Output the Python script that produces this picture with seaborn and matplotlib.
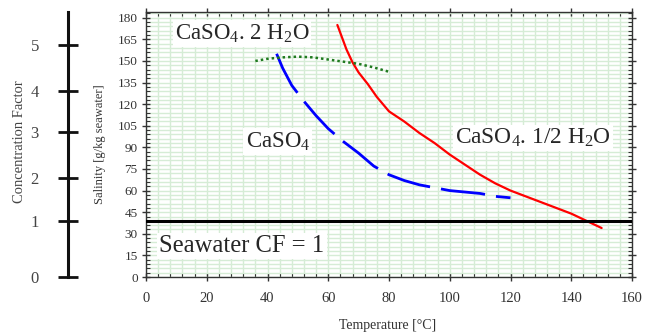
import numpy as np
import pandas as pd
import matplotlib
matplotlib.use("Agg")
import matplotlib.pyplot as plt
import seaborn as sns

# ---- data ----
hemi_T = [63, 66, 68, 70, 73, 76, 80, 85, 90, 95, 100, 105, 110, 115, 120, 125, 130, 135, 140, 145, 150]
hemi_S = [175, 158, 149, 142, 134, 125, 115, 108, 100, 93, 85, 78, 71, 65, 60, 56, 52, 48, 44, 39, 34]

anhy_T = [43, 45, 48, 52, 56, 60, 65, 70, 75, 80, 85, 90, 95, 100, 105, 110, 115, 120]
anhy_S = [155, 145, 133, 122, 112, 103, 94, 86, 77, 71, 67, 64, 62, 60, 59, 58, 56, 55]

gyp_T = [36, 40, 45, 50, 55, 60, 65, 70, 75, 80]
gyp_S = [150, 151.5, 152.5, 153, 152.5, 151, 149.5, 148, 145.5, 142.5]

seawater_S = 39
cf_labels = ["0", "1", "2", "3", "4", "5"]
cf_positions = [0, 38.9, 68.8, 100.7, 129.2, 161.1]

x_ticks = [0, 20, 40, 60, 80, 100, 120, 140, 160]
y_ticks = [0, 15, 30, 45, 60, 75, 90, 105, 120, 135, 150, 165, 180]

labels = {
    "gyp": r"CaSO$\mathregular{_4}$. 2 H$\mathregular{_2}$O",
    "anhy": r"CaSO$\mathregular{_4}$",
    "hemi": r"CaSO$\mathregular{_4}$. 1/2 H$\mathregular{_2}$O",
    "sea": "Seawater CF = 1",
}

sns.set_theme(style="white")
plt.rcParams["font.family"] = ["Liberation Serif", "DejaVu Serif"]
plt.rcParams["mathtext.fontset"] = "custom"
plt.rcParams["mathtext.rm"] = "Liberation Serif"

fig = plt.figure(figsize=(6.54, 3.36), dpi=100)
W, H = 654, 336
ax = fig.add_axes([146 / W, 1 - 277 / H, (632 - 146) / W, (277 - 12) / H])

df_h = pd.DataFrame({"T": hemi_T, "S": hemi_S})
df_a = pd.DataFrame({"T": anhy_T, "S": anhy_S})
df_g = pd.DataFrame({"T": gyp_T, "S": gyp_S})

sns.lineplot(data=df_h, x="T", y="S", ax=ax, color="#ff0000", lw=1.6, sort=False, zorder=4)
sns.lineplot(data=df_a, x="T", y="S", ax=ax, color="#0000ff", lw=2.0, sort=False, zorder=4)
ax.lines[-1].set_dashes([16, 4])
sns.lineplot(data=df_g, x="T", y="S", ax=ax, color="#1f7a1f", lw=1.8, sort=False, zorder=4)
ax.lines[-1].set_dashes([1, 1.2])
ax.axhline(seawater_S, color="black", lw=2.2, zorder=5)

ax.set_xlim(0, 160)
ax.set_ylim(0, 184)
ax.set_xticks(x_ticks)
ax.set_yticks(y_ticks)
ax.set_xticks(np.arange(0, 161, 4), minor=True)
ax.set_yticks(np.arange(0, 185, 3), minor=True)
ax.grid(True, which="both", color="#d6ecd6", lw=1.0)
ax.set_axisbelow(True)
ax.set_xlabel("")
ax.set_ylabel("")
for s in ax.spines.values():
    s.set_color("#333333")
    s.set_linewidth(1.0)
ax.tick_params(which="major", direction="inout", length=6, width=1, color="#333333",
               labelsize=10, labelcolor="#333333", bottom=True, left=True, top=True, right=True,
               labeltop=False, labelright=False, pad=3)
ax.tick_params(which="minor", direction="in", length=3, width=0.8, color="#333333",
               bottom=True, left=True, top=True, right=True)
ax.tick_params(axis="x", which="major", pad=8, labelsize=10.5)
ax.tick_params(axis="y", which="major", labelsize=9.5)

bbox = dict(facecolor="white", edgecolor="none", pad=1.5)
ax.text(31.6, 169, labels["gyp"], fontsize=16.5, ha="center", va="center", bbox=bbox, zorder=6)
ax.text(43.4, 94, labels["anhy"], fontsize=16.5, ha="center", va="center", bbox=bbox, zorder=6)
ax.text(127.3, 96.5, labels["hemi"], fontsize=16.8, ha="center", va="center", bbox=bbox, zorder=6)
ax.text(31.6, 21.5, labels["sea"], fontsize=17.7, ha="center", va="center", bbox=bbox, zorder=6)

# concentration factor axis
cax = fig.add_axes([68 / W, 1 - 277 / H, 0.001, (277 - 12) / H])
cax.set_ylim(0, 184)
cax.set_xticks([])
cax.set_yticks(cf_positions)
cax.set_yticklabels(cf_labels)
for k in ["top", "right", "bottom"]:
    cax.spines[k].set_visible(False)
cax.spines["left"].set_linewidth(2.2)
cax.spines["left"].set_color("#111111")
cax.patch.set_alpha(0)
cax.tick_params(axis="y", which="major", left=True, direction="inout", length=14, width=2,
                color="#111111", labelsize=12, labelcolor="#444444", pad=14)

fig.text(20 / W, 1 - 142 / H, "Concentration Factor", rotation=90, ha="center", va="center",
         fontsize=10.5, color="#444444")
fig.text(100 / W, 1 - 144 / H, "Salinity [g/kg seawater]", rotation=90, ha="center", va="center",
         fontsize=9, color="#333333")
fig.text(388 / W, 1 - 325 / H, "Temperature [°C]", ha="center", va="center",
         fontsize=10, color="#333333")

fig.savefig("out.png", dpi=100)
